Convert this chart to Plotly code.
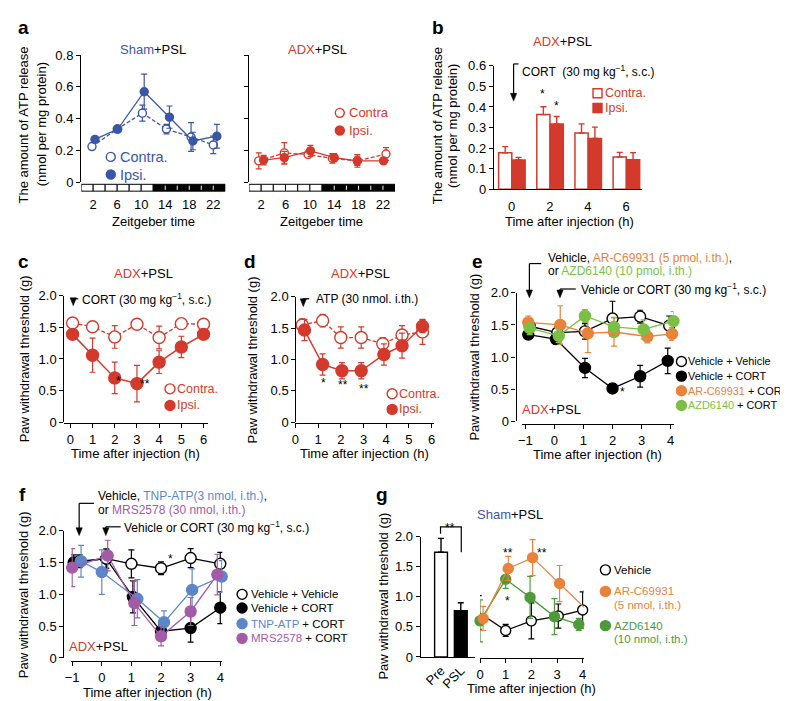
import plotly.graph_objects as go

W, H = 788, 701
FONT = "Liberation Sans, Arial, Helvetica, sans-serif"
BLK = "#000000"
BLUE = "#3a56a6"
RED = "#d33a2c"
ORANGE = "#e9823b"
LGREEN = "#7cbf45"
DGREEN = "#4e9a3b"
LBLUE = "#5b87ca"
PURPLE = "#a45ba7"

# ---------------- data ----------------
# panel a : ATP release over Zeitgeber time
zt_ticks = [2, 6, 10, 14, 18, 22]
ld_phase = ["L"] * 6 + ["D"] * 6          # 2-h light/dark blocks, ZT0-24
a_yticks = [0, 0.2, 0.4, 0.6, 0.8]
a_yticktext = ["0", "0.2", "0.4", "0.6", "0.8"]
sham_contra_x = [1.8, 6.0, 10.2, 14.2, 18.3, 22.0]
sham_contra = [0.225, 0.335, 0.435, 0.335, 0.285, 0.235]
sham_contra_err = [0.01, 0.01, 0.05, 0.03, 0.09, 0.055]
sham_ipsi_x = [2.3, 6.1, 10.5, 14.7, 18.6, 22.6]
sham_ipsi = [0.27, 0.335, 0.57, 0.41, 0.26, 0.29]
sham_ipsi_err = [0.015, 0.01, 0.11, 0.07, 0.055, 0.075]
adx_contra_x = [1.6, 5.8, 9.7, 13.7, 17.8, 22.5]
adx_contra = [0.135, 0.185, 0.175, 0.15, 0.135, 0.178]
adx_contra_err = [0.05, 0.065, 0.02, 0.03, 0.04, 0.04]
adx_ipsi_x = [2.4, 5.8, 10.1, 14.0, 17.8, 22.1]
adx_ipsi = [0.14, 0.155, 0.198, 0.155, 0.135, 0.135]
adx_ipsi_err = [0.03, 0.04, 0.035, 0.025, 0.03, 0.01]

# panel b : ATP release after CORT
b_time = [0, 2, 4, 6]
b_yticks = [0, 0.1, 0.2, 0.3, 0.4, 0.5, 0.6]
b_yticktext = ["0", "0.1", "0.2", "0.3", "0.4", "0.5", "0.6"]
b_contra = [0.177, 0.363, 0.273, 0.157]
b_contra_err = [0.03, 0.038, 0.045, 0.022]
b_ipsi = [0.142, 0.317, 0.247, 0.143]
b_ipsi_err = [0.013, 0.037, 0.055, 0.035]

# shared threshold ticks
pw_yticks = [0, 0.5, 1.0, 1.5, 2.0]
pw_yticktext = ["0", "0.5", "1.0", "1.5", "2.0"]

# panel c
c_ticks = [0, 1, 2, 3, 4, 5, 6]
c_x = [0.1, 1, 2, 3, 4, 5, 6]
c_contra = [1.57, 1.51, 1.35, 1.55, 1.34, 1.56, 1.55]
c_contra_err = [0.05, 0.05, 0.18, 0.03, 0.18, 0.05, 0.05]
c_ipsi = [1.39, 1.06, 0.70, 0.61, 0.95, 1.19, 1.39]
c_ipsi_err = [0.05, 0.27, 0.25, 0.29, 0.18, 0.17, 0.05]

# panel d
d_contra_x = [0.3, 1.2, 2.0, 2.9, 3.85, 4.7, 5.6]
d_contra = [1.55, 1.62, 1.35, 1.35, 1.25, 1.39, 1.44]
d_contra_err = [0.1, 0.1, 0.17, 0.17, 0.1, 0.15, 0.2]
d_ipsi_x = [0.4, 1.2, 2.05, 2.9, 3.9, 4.7, 5.6]
d_ipsi = [1.47, 0.92, 0.82, 0.82, 1.08, 1.22, 1.53]
d_ipsi_err = [0.17, 0.17, 0.13, 0.13, 0.17, 0.2, 0.1]

# panel e
ef_ticks = [-1, 0, 1, 2, 3, 4]
ef_ticktext = ["\u22121", "0", "1", "2", "3", "4"]
e_vv_x = [-0.85, 0.1, 1.05, 2.0, 2.95, 3.95]
e_vv = [1.48, 1.38, 1.40, 1.60, 1.63, 1.49]
e_vv_err = [0.1, 0.1, 0.12, 0.27, 0.1, 0.15]
e_vc_x = [-0.9, 0.05, 1.05, 2.0, 2.95, 3.9]
e_vc = [1.35, 1.28, 0.83, 0.51, 0.70, 0.94]
e_vc_err = [0.05, 0.08, 0.15, 0.07, 0.17, 0.2]
e_ar_x = [-0.9, 0.2, 1.15, 2.05, 3.2, 4.05]
e_ar = [1.54, 1.50, 1.37, 1.39, 1.32, 1.36]
e_ar_err = [0.1, 0.3, 0.3, 0.22, 0.1, 0.1]
e_az_x = [-0.85, 0.15, 1.05, 2.05, 3.07, 4.1]
e_az = [1.45, 1.33, 1.64, 1.47, 1.43, 1.56]
e_az_err = [0.1, 0.1, 0.1, 0.15, 0.15, 0.15]
e_names = ["Vehicle + Vehicle", "Vehicle + CORT", "AR-C69931", "AZD6140"]

# panel f
f_vv_x = [-0.75, 0.15, 1.0, 2.0, 3.0, 4.0]
f_vv = [1.52, 1.56, 1.48, 1.41, 1.57, 1.48]
f_vv_err = [0.1, 0.15, 0.22, 0.1, 0.15, 0.18]
f_vc_x = [-0.95, 0.15, 1.05, 2.0, 3.0, 4.0]
f_vc = [1.50, 1.56, 0.96, 0.42, 0.47, 0.79]
f_vc_err = [0.12, 0.15, 0.25, 0.1, 0.22, 0.25]
f_tnp_x = [-0.7, 0.0, 1.2, 2.1, 3.05, 4.05]
f_tnp = [1.52, 1.35, 0.93, 0.56, 1.07, 1.28]
f_tnp_err = [0.25, 0.35, 0.3, 0.18, 0.33, 0.25]
f_mrs_x = [-1.0, 0.2, 1.1, 2.0, 3.0, 3.9]
f_mrs = [1.42, 1.61, 0.86, 0.34, 0.73, 1.31]
f_mrs_err = [0.3, 0.24, 0.35, 0.15, 0.22, 0.32]
f_names = ["Vehicle + Vehicle", "Vehicle + CORT", "TNP-ATP", "MRS2578"]

# panel g
g_cats = ["Pre", "PSL"]
g_bar = [1.74, 0.77]
g_bar_err = [0.23, 0.13]
g_ticks = [0, 1, 2, 3, 4]
g_veh_x = [-0.05, 1.0, 2.0, 3.05, 4.0]
g_veh = [0.74, 0.44, 0.60, 0.68, 0.78]
g_veh_err = [0.28, 0.1, 0.3, 0.2, 0.3]
g_ar_x = [0.12, 1.1, 2.05, 3.1, 4.12]
g_ar = [0.64, 1.47, 1.65, 1.22, 0.80]
g_ar_err = [0.2, 0.2, 0.3, 0.3, 0.3]
g_az_x = [0.0, 1.0, 1.95, 2.9, 3.85]
g_az = [0.60, 1.29, 0.99, 0.67, 0.54]
g_az_err = [0.35, 0.15, 0.35, 0.3, 0.1]


# ---------------- helpers ----------------
def xp(p):
    return p / W


def yp(p):
    return 1 - p / H


def xd(l, r):
    return [l / W, r / W]


def yd(top, bottom):
    return [1 - bottom / H, 1 - top / H]


fig = go.Figure()
shapes = []
annotations = []


def scat(x, y, err, xa, ya, color, filled=True, dash="solid", size=10, lw=1.3):
    fig.add_trace(go.Scatter(
        x=x, y=y, xaxis=xa, yaxis=ya, mode="lines+markers", cliponaxis=False,
        line=dict(color=color, width=lw, dash=dash),
        marker=dict(size=size, color=color if filled else "white",
                    line=dict(color=color, width=1.4)),
        error_y=dict(type="data", array=err, color=color, thickness=1.2, width=3),
        showlegend=False, hoverinfo="skip"))


def txt(x, y, s, size=13, color=BLK, xanchor="center", angle=0):
    annotations.append(dict(x=xp(x), y=yp(y), xref="paper", yref="paper", text=s,
                            showarrow=False, xanchor=xanchor, yanchor="middle",
                            textangle=angle, borderpad=0,
                            font=dict(family=FONT, size=size, color=color)))


def letter(x, y, s):
    txt(x, y, "<b>" + s + "</b>", size=19)


def star(x, y, s):
    txt(x, y + 3, s, size=12)


def leg_circle(cx, cy, color, filled, d=10):
    r = d / 2
    shapes.append(dict(type="circle", xref="paper", yref="paper", xsizemode="pixel",
                       ysizemode="pixel", xanchor=xp(cx), yanchor=yp(cy),
                       x0=-r, x1=r, y0=-r, y1=r, line=dict(color=color, width=1.4),
                       fillcolor=color if filled else "white"))


def leg_square(cx, cy, color, filled, d=10):
    r = d / 2
    shapes.append(dict(type="rect", xref="paper", yref="paper", xsizemode="pixel",
                       ysizemode="pixel", xanchor=xp(cx), yanchor=yp(cy),
                       x0=-r, x1=r, y0=-r, y1=r, line=dict(color=color, width=1.4),
                       fillcolor=color if filled else "white"))


def pline(x0, y0, x1, y1, color=BLK, w=1.2):
    shapes.append(dict(type="line", xref="paper", yref="paper", x0=xp(x0), y0=yp(y0),
                       x1=xp(x1), y1=yp(y1), line=dict(color=color, width=w)))


def bracket_arrow(xv, ytop, ytip, xh):
    pline(xh, ytop, xv, ytop)
    pline(xv, ytop, xv, ytip - 5)
    shapes.append(dict(type="path", xref="paper", yref="paper",
                       path=f"M {xp(xv-3.2)},{yp(ytip-8)} L {xp(xv+3.2)},{yp(ytip-8)} L {xp(xv)},{yp(ytip)} Z",
                       fillcolor=BLK, line=dict(color=BLK, width=0.5)))


def span(s, c):
    return f"<span style='color:{c}'>{s}</span>"


# ---------------- traces ----------------
# a
scat(sham_contra_x, sham_contra, sham_contra_err, "x", "y", BLUE, False, "4px,2px", 8)
scat(sham_ipsi_x, sham_ipsi, sham_ipsi_err, "x", "y", BLUE, True, "solid", 8)
scat(adx_contra_x, adx_contra, adx_contra_err, "x2", "y2", RED, False, "4px,2px", 8)
scat(adx_ipsi_x, adx_ipsi, adx_ipsi_err, "x2", "y2", RED, True, "solid", 8)

# b
fig.add_trace(go.Bar(x=b_time, y=b_contra, xaxis="x3", yaxis="y3", width=0.69, offset=-0.68,
                     marker=dict(color="white", line=dict(color=RED, width=1.5)),
                     error_y=dict(type="data", array=b_contra_err, arrayminus=[0] * 4,
                                  symmetric=False, color=RED, thickness=1.4, width=3),
                     showlegend=False, hoverinfo="skip"))
fig.add_trace(go.Bar(x=b_time, y=b_ipsi, xaxis="x3", yaxis="y3", width=0.69, offset=0.02,
                     marker=dict(color=RED, line=dict(color=RED, width=1.5)),
                     error_y=dict(type="data", array=b_ipsi_err, arrayminus=[0] * 4,
                                  symmetric=False, color=RED, thickness=1.4, width=3),
                     showlegend=False, hoverinfo="skip"))

# c
scat(c_x, c_contra, c_contra_err, "x4", "y4", RED, False, "4px,2px", 12)
scat(c_x, c_ipsi, c_ipsi_err, "x4", "y4", RED, True, "solid", 12, 1.5)
# d
scat(d_contra_x, d_contra, d_contra_err, "x5", "y5", RED, False, "4px,2px", 12)
scat(d_ipsi_x, d_ipsi, d_ipsi_err, "x5", "y5", RED, True, "solid", 12, 1.5)
# e
scat(e_vv_x, e_vv, e_vv_err, "x6", "y6", BLK, False, "solid", 11)
scat(e_vc_x, e_vc, e_vc_err, "x6", "y6", BLK, True, "solid", 11)
scat(e_ar_x, e_ar, e_ar_err, "x6", "y6", ORANGE, True, "solid", 11)
scat(e_az_x, e_az, e_az_err, "x6", "y6", LGREEN, True, "solid", 11)
# f
scat(f_vc_x, f_vc, f_vc_err, "x7", "y7", BLK, True, "solid", 11)
scat(f_vv_x, f_vv, f_vv_err, "x7", "y7", BLK, False, "solid", 11)
scat(f_tnp_x, f_tnp, f_tnp_err, "x7", "y7", LBLUE, True, "solid", 11)
scat(f_mrs_x, f_mrs, f_mrs_err, "x7", "y7", PURPLE, True, "solid", 11)
# g
fig.add_trace(go.Bar(x=g_cats, y=g_bar, xaxis="x8", yaxis="y8", width=0.65,
                     marker=dict(color=["white", BLK], line=dict(color=BLK, width=1.4)),
                     error_y=dict(type="data", array=g_bar_err, arrayminus=[0, 0],
                                  symmetric=False, color=BLK, thickness=1.4, width=3),
                     showlegend=False, hoverinfo="skip"))
scat(g_veh_x, g_veh, g_veh_err, "x9", "y9", BLK, False, "solid", 10)
scat(g_az_x, g_az, g_az_err, "x9", "y9", DGREEN, True, "solid", 10)
scat(g_ar_x, g_ar, g_ar_err, "x9", "y9", ORANGE, True, "solid", 10)


# ---------------- axes ----------------
def ax(**kw):
    d = dict(showgrid=False, zeroline=False, showline=True, linecolor=BLK, linewidth=1.2,
             ticks="outside", ticklen=4, tickwidth=1.2, tickcolor=BLK,
             tickfont=dict(family=FONT, size=13, color=BLK), fixedrange=True)
    d.update(kw)
    return d


axes = dict(
    xaxis=ax(domain=xd(67, 213), range=[0, 24], anchor="free", position=yp(181),
             showline=False, ticks="", tickvals=zt_ticks, ticktext=[str(v) for v in zt_ticks],
             ticklabelstandoff=3),
    yaxis=ax(domain=yd(41, 171), range=[0, 0.8], anchor="x", tickvals=a_yticks,
             ticktext=a_yticktext),
    xaxis2=ax(domain=xd(237, 385), range=[0, 24], anchor="free", position=yp(181),
              showline=False, ticks="", tickvals=zt_ticks, ticktext=[str(v) for v in zt_ticks],
              ticklabelstandoff=3),
    yaxis2=ax(domain=yd(41, 171), range=[0, 0.8], anchor="x2", tickvals=a_yticks,
              showticklabels=False),
    xaxis3=ax(domain=xd(485, 635), range=[-0.93, 6.83], anchor="y3", ticks="",
              tickvals=b_time, ticklabelstandoff=5),
    yaxis3=ax(domain=yd(52, 178), range=[0, 0.6], anchor="x3", tickvals=b_yticks,
              ticktext=b_yticktext),
    xaxis4=ax(domain=xd(50, 195), range=[-0.27, 6.18], anchor="free", position=yp(417),
              tickvals=c_ticks),
    yaxis4=ax(domain=yd(287, 416), range=[0, 2], anchor="free", position=xp(49),
              tickvals=pw_yticks, ticktext=pw_yticktext),
    xaxis5=ax(domain=xd(284, 424), range=[0, 6.09], anchor="free", position=yp(417),
              tickvals=c_ticks),
    yaxis5=ax(domain=yd(288, 416), range=[0, 2], anchor="free", position=xp(284),
              tickvals=pw_yticks, ticktext=pw_yticktext),
    xaxis6=ax(domain=xd(514, 667), range=[-1.1, 4.1], anchor="free", position=yp(418),
              tickvals=ef_ticks, ticktext=ef_ticktext),
    yaxis6=ax(domain=yd(284, 415), range=[0, 2], anchor="free", position=xp(507),
              tickvals=pw_yticks, ticktext=pw_yticktext),
    xaxis7=ax(domain=xd(57, 210), range=[-1.03, 4.07], anchor="free", position=yp(660),
              tickvals=ef_ticks, ticktext=ef_ticktext),
    yaxis7=ax(domain=yd(527, 657), range=[0, 2], anchor="free", position=xp(49),
              tickvals=pw_yticks, ticktext=pw_yticktext),
    xaxis8=ax(domain=xd(410, 466), type="category", categoryorder="array",
              categoryarray=g_cats, range=[-1.075, 1.725], anchor="y8", ticks="",
              tickangle=-45),
    yaxis8=ax(domain=yd(533, 656), range=[0, 2], anchor="free", position=xp(410),
              tickvals=pw_yticks, ticktext=pw_yticktext),
    xaxis9=ax(domain=xd(471, 576), range=[0, 4.04], anchor="free", position=yp(657),
              tickvals=g_ticks),
    yaxis9=dict(domain=yd(533, 656), range=[0, 2], anchor="x9", visible=False,
                showticklabels=False, fixedrange=True),
)

# ---------------- panel a decorations ----------------
for i, ph in enumerate(ld_phase):
    for xr in ("x", "x2"):
        shapes.append(dict(type="rect", xref=xr, yref="paper", x0=2 * i, x1=2 * i + 2,
                           y0=yp(180), y1=yp(173),
                           fillcolor="white" if ph == "L" else "black",
                           line=dict(color="black", width=1)))
for i, ph in enumerate(ld_phase):
    if ph == "D" and i > 0 and ld_phase[i - 1] == "D":
        for xr in ("x", "x2"):
            shapes.append(dict(type="line", xref=xr, yref="paper", x0=2 * i, x1=2 * i,
                               y0=yp(178.6), y1=yp(174.4),
                               line=dict(color="white", width=1)))

letter(9, 13, "a")
txt(140, 35, span("Sham", BLUE) + "+PSL")
txt(306, 35, span("ADX", RED) + "+PSL")
txt(9, 112, "The amount of ATP release", angle=-90)
txt(27, 112, "(nmol per mg protein)", angle=-90)
txt(140, 211, "Zeitgeber time")
txt(310, 211, "Zeitgeber time")
leg_circle(97, 145, BLUE, False, 9)
leg_circle(97, 163, BLUE, True, 9)
txt(105, 145, "Contra.", size=14.5, color=BLUE, xanchor="left")
txt(105, 163, "Ipsi.", size=14.5, color=BLUE, xanchor="left")
leg_circle(329, 100, RED, False, 9)
leg_circle(329, 118, RED, True, 9)
txt(337, 100, "Contra", color=RED, xanchor="left")
txt(337, 118, "Ipsi.", color=RED, xanchor="left")

# ---------------- panel b ----------------
letter(428, 13, "b")
txt(555, 27, span("ADX", RED) + "+PSL")
txt(428, 113, "The amount of ATP release", angle=-90)
txt(443, 113, "(nmol per mg protein)", angle=-90)
txt(562, 211, "Time after injection (h)")
bracket_arrow(505, 50, 88, 510)
txt(512, 57, "CORT  (30 mg kg<sup>\u22121</sup>, s.c.)", size=12, xanchor="left")
leg_square(590, 80, RED, False, 9)
leg_square(590, 95, RED, True, 9)
txt(597, 80, "Contra.", size=12.5, color=RED, xanchor="left")
txt(597, 95, "Ipsi.", size=12.5, color=RED, xanchor="left")
star(534, 78, "*")
star(548, 90, "*")

# ---------------- panel c ----------------
letter(9, 252, "c")
txt(130, 264, span("ADX", RED) + "+PSL")
txt(10, 351, "Paw withdrawal threshold (g)", angle=-90)
txt(122, 448, "Time after injection (h)")
bracket_arrow(59, 290, 297, 64)
txt(67, 290, "CORT (30 mg kg<sup>\u22121</sup>, s.c.)", size=12, xanchor="left")
leg_circle(157, 382, RED, False, 10)
leg_circle(157, 399, RED, True, 10)
txt(163, 382, "Contra.", size=12.5, color=RED, xanchor="left")
txt(163, 399, "Ipsi.", size=12.5, color=RED, xanchor="left")
star(105, 371, "*")
star(132, 374, "**")

# ---------------- panel d ----------------
letter(238, 252, "d")
txt(350, 264, span("ADX", RED) + "+PSL")
txt(241, 352, "Paw withdrawal threshold (g)", angle=-90)
txt(354, 448, "Time after injection (h)")
bracket_arrow(292, 290, 298, 298)
txt(304, 290, "ATP (30 nmol. i.th.)", size=12, xanchor="left")
leg_circle(382, 387, RED, False, 10)
leg_circle(382, 403, RED, True, 10)
txt(388, 387, "Contra.", size=12.5, color=RED, xanchor="left")
txt(388, 403, "Ipsi.", size=12.5, color=RED, xanchor="left")
star(312, 373, "*")
star(332, 375, "**")
star(353, 379, "**")

# ---------------- panel e ----------------
letter(468, 252, "e")
txt(465, 350, "Paw withdrawal threshold (g)", angle=-90)
txt(590, 449, "Time after injection (h)")
bracket_arrow(521, 254, 289, 533)
bracket_arrow(552, 280, 289, 568)
txt(539, 248, "Vehicle, " + span("AR-C69931 (5 pmol, i.th.)", ORANGE) + ",", size=12, xanchor="left")
txt(539, 262, "or " + span("AZD6140 (10 pmol, i.th.)", LGREEN), size=12, xanchor="left")
txt(572, 280, "Vehicle or CORT (30 mg kg<sup>\u22121</sup>, s.c.)", size=12, xanchor="left")
e_cols = [BLK, BLK, ORANGE, LGREEN]
e_fill = [False, True, True, True]
e_rows = [354, 369, 384, 399]
for nm, col, fl, ry in zip(e_names, e_cols, e_fill, e_rows):
    leg_circle(675, ry, col, fl, 10)
    label = nm if col == BLK else span(nm, col) + " + CORT"
    txt(681, ry, label, size=10.9, xanchor="left")
txt(513, 403, span("ADX", RED) + "+PSL", xanchor="left")
star(615, 382, "*")

# ---------------- panel f ----------------
letter(8, 490, "f")
txt(8, 592, "Paw withdrawal threshold (g)", angle=-90)
txt(134, 692, "Time after injection (h)")
bracket_arrow(65, 499, 532, 80)
bracket_arrow(92, 523, 532, 107)
txt(83, 492, "Vehicle, " + span("TNP-ATP(3 nmol, i.th.)", LBLUE) + ",", size=12, xanchor="left")
txt(83, 506, "or " + span("MRS2578 (30 nmol, i.th.)", PURPLE), size=12, xanchor="left")
txt(109, 523, "Vehicle or CORT (30 mg kg<sup>\u22121</sup>, s.c.)", size=12, xanchor="left")
f_cols = [BLK, BLK, LBLUE, PURPLE]
f_fill = [False, True, True, True]
f_rows = [592, 606, 622, 637]
for nm, col, fl, ry in zip(f_names, f_cols, f_fill, f_rows):
    leg_circle(230, ry, col, fl, 10)
    label = nm if col == BLK else span(nm, col) + " + CORT"
    txt(238, ry, label, size=11.5, xanchor="left")
txt(54, 645, span("ADX", RED) + "+PSL", xanchor="left")
star(158, 553, "*")

# ---------------- panel g ----------------
letter(372, 490, "g")
txt(373, 594, "Paw withdrawal threshold (g)", angle=-90)
txt(523, 688, "Time after injection (h)")
txt(467, 510, span("Sham", BLUE) + "+PSL", xanchor="left")
shapes.append(dict(type="path", xref="paper", yref="paper",
                   path=f"M {xp(431)},{yp(530)} L {xp(431)},{yp(523)} L {xp(452)},{yp(523)} L {xp(452)},{yp(549)}",
                   line=dict(color=BLK, width=1.2)))
star(441, 521, "**")
star(499, 547, "**")
star(534, 547, "**")
star(499, 596, "*")
leg_circle(598, 567, BLK, False, 10)
txt(606, 567, "Vehicle", size=11.5, xanchor="left")
leg_circle(598, 589, ORANGE, True, 10)
txt(606, 589, "AR-C69931", size=11.5, color=ORANGE, xanchor="left")
txt(606, 603, "(5 nmol, i.th.)", size=11.5, color=ORANGE, xanchor="left")
leg_circle(598, 624, DGREEN, True, 10)
txt(606, 624, "AZD6140", size=11.5, color=DGREEN, xanchor="left")
txt(606, 638, "(10 nmol, i.th.)", size=11.5, color=DGREEN, xanchor="left")

fig.update_layout(
    width=W, height=H, margin=dict(l=0, r=0, t=0, b=0),
    paper_bgcolor="white", plot_bgcolor="white", showlegend=False,
    barmode="overlay", font=dict(family=FONT, size=13, color=BLK),
    shapes=shapes, annotations=annotations, **axes)

fig.write_html("out.html")
